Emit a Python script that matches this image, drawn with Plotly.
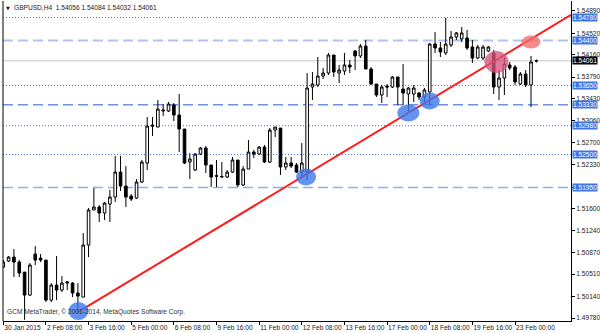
import plotly.graph_objects as go

# ---------------- data (GBPUSD H4) ----------------
bar_index = list(range(101))
opens = [1.50628, 1.50727, 1.50794, 1.50711, 1.50544, 1.50161, 1.50844, 1.50777, 1.50744, 1.50078,
         1.50328, 1.50245, 1.50361, 1.50361, 1.50195, 1.50128, 1.50994, 1.51577, 1.51627, 1.51527,
         1.51677, 1.51793, 1.52209, 1.51976, 1.51810, 1.51776, 1.52043, 1.52359, 1.52991, 1.52958,
         1.53225, 1.53225, 1.53325, 1.53158, 1.52925, 1.52376, 1.52243, 1.52509, 1.52609, 1.52326,
         1.52138, 1.52126, 1.52126, 1.52209, 1.52409, 1.51993, 1.52259, 1.52542, 1.52509, 1.52625,
         1.52376, 1.52908, 1.52941, 1.52293, 1.52359, 1.52326, 1.52209, 1.52209, 1.53624, 1.53658,
         1.53807, 1.53857, 1.54157, 1.53857, 1.53891, 1.53991, 1.54224, 1.54141, 1.54307, 1.53924,
         1.53674, 1.53491, 1.53641, 1.53624, 1.53791, 1.53591, 1.53508, 1.53508, 1.53525, 1.53458,
         1.53541, 1.54340, 1.54274, 1.54191, 1.54324, 1.54457, 1.54424, 1.54440, 1.54290, 1.54107,
         1.54107, 1.54224, 1.54191, 1.53624, 1.53774, 1.53991, 1.53957, 1.53674, 1.53841, 1.53658,
         1.54056]
highs = [1.50744, 1.50811, 1.50927, 1.50744, 1.50544, 1.50694, 1.50977, 1.50844, 1.50744, 1.50361,
         1.50811, 1.50478, 1.50395, 1.50378, 1.50361, 1.51194, 1.51610, 1.51943, 1.51660, 1.51710,
         1.51910, 1.52476, 1.52476, 1.52309, 1.51843, 1.52093, 1.52409, 1.53125, 1.53125, 1.53408,
         1.53341, 1.53375, 1.53358, 1.53508, 1.52925, 1.52525, 1.52525, 1.52625, 1.52642, 1.52326,
         1.52409, 1.52376, 1.52243, 1.52459, 1.52409, 1.52309, 1.52742, 1.52576, 1.52642, 1.52659,
         1.52941, 1.52958, 1.52941, 1.52459, 1.52459, 1.52359, 1.52692, 1.53857, 1.53874, 1.54124,
         1.53941, 1.54191, 1.54157, 1.53991, 1.54191, 1.54074, 1.54241, 1.54340, 1.54407, 1.53957,
         1.53674, 1.53658, 1.53674, 1.53807, 1.53791, 1.54007, 1.53624, 1.53658, 1.53541, 1.53608,
         1.54357, 1.54540, 1.54374, 1.54773, 1.54557, 1.54540, 1.54623, 1.54574, 1.54407, 1.54324,
         1.54324, 1.54307, 1.54241, 1.53907, 1.54124, 1.54041, 1.53991, 1.53874, 1.53907, 1.54141,
         1.54084]
lows = [1.50611, 1.50711, 1.50461, 1.50461, 1.49750, 1.50145, 1.50661, 1.50711, 1.50045, 1.50045,
        1.50078, 1.50211, 1.50245, 1.50128, 1.49878, 1.50128, 1.50794, 1.51577, 1.51377, 1.51410,
        1.51377, 1.51710, 1.51893, 1.51627, 1.51727, 1.51760, 1.52026, 1.52243, 1.52808, 1.52958,
        1.53141, 1.53208, 1.53058, 1.52542, 1.52343, 1.52093, 1.52226, 1.52492, 1.52193, 1.51960,
        1.51960, 1.52110, 1.52110, 1.52193, 1.51960, 1.51976, 1.52259, 1.52443, 1.52492, 1.52359,
        1.52359, 1.52792, 1.52160, 1.52243, 1.52276, 1.52193, 1.52143, 1.52076, 1.53408, 1.53624,
        1.53758, 1.53824, 1.53791, 1.53691, 1.53824, 1.53857, 1.53907, 1.54107, 1.53924, 1.53658,
        1.53458, 1.53358, 1.53458, 1.53608, 1.53325, 1.53325, 1.53191, 1.53375, 1.53408, 1.53375,
        1.53325, 1.54191, 1.54124, 1.54157, 1.54290, 1.54407, 1.54374, 1.54241, 1.54024, 1.54090,
        1.54074, 1.54207, 1.53508, 1.53408, 1.53491, 1.53907, 1.53658, 1.53658, 1.53624, 1.53291,
        1.54032]
closes = [1.50711, 1.50794, 1.50711, 1.50528, 1.50161, 1.50661, 1.50744, 1.50744, 1.50078, 1.50328,
          1.50245, 1.50361, 1.50378, 1.50195, 1.50145, 1.50994, 1.51577, 1.51627, 1.51527, 1.51693,
          1.51793, 1.52209, 1.51976, 1.51793, 1.51760, 1.52043, 1.52376, 1.52975, 1.52975, 1.53258,
          1.53240, 1.53341, 1.53158, 1.52925, 1.52359, 1.52426, 1.52509, 1.52609, 1.52326, 1.52126,
          1.52148, 1.52135, 1.52209, 1.52409, 1.51993, 1.52259, 1.52542, 1.52509, 1.52625, 1.52376,
          1.52908, 1.52958, 1.52293, 1.52359, 1.52309, 1.52209, 1.52359, 1.53608, 1.53674, 1.53807,
          1.53857, 1.54157, 1.53874, 1.53907, 1.53991, 1.53957, 1.54141, 1.54307, 1.53924, 1.53674,
          1.53491, 1.53624, 1.53624, 1.53791, 1.53624, 1.53525, 1.53608, 1.53608, 1.53458, 1.53575,
          1.54340, 1.54274, 1.54207, 1.54340, 1.54457, 1.54524, 1.54524, 1.54274, 1.54107, 1.54290,
          1.54290, 1.54290, 1.53624, 1.53774, 1.54007, 1.53941, 1.53708, 1.53841, 1.53658, 1.54041,
          1.54061]

xtick_idx = [0, 8, 16, 24, 32, 40, 48, 56, 64, 72, 80, 88, 96]
xtick_text = ["30 Jan 2015", "2 Feb 08:00", "3 Feb 16:00", "5 Feb 00:00", "6 Feb 08:00",
              "9 Feb 16:00", "11 Feb 00:00", "12 Feb 08:00", "13 Feb 16:00", "17 Feb 00:00",
              "18 Feb 08:00", "19 Feb 16:00", "23 Feb 00:00"]
ytick_vals = [1.54890, 1.54520, 1.54160, 1.53790, 1.53430, 1.53060, 1.52700, 1.52330,
              1.51960, 1.51600, 1.51240, 1.50870, 1.50510, 1.50140, 1.49780]
# the 1.51960 tick label is covered by the 1.51950 level label in the reference
ytick_hidden = [1.51960]

dotted_levels = [1.54780, 1.53650, 1.52980, 1.52500]
dashed_levels = [1.54400, 1.53330, 1.51950]
current_price = 1.54061

trend_x = [14, 80]
trend_y = [1.49878, 1.53408]

blue_mark_x = [14.1, 56.8, 76.0, 80.0]
blue_mark_y = [1.49895, 1.52126, 1.53191, 1.53392]
red_mark_x = [92.5, 99.0]
red_mark_y = [1.54041, 1.54374]

title_text = "GBPUSD,H4  1.54056 1.54084 1.54032 1.54061"
watermark = "GCM MetaTrader, © 2001-2014, MetaQuotes Software Corp."

# ---------------- layout geometry ----------------
W, H = 600, 333
ML, MR, MT, MB = 3, 29, 1, 12
plot_w = W - ML - MR
plot_h = H - MT - MB
x_range = [-0.05, 106.5]
y_range = [1.49730, 1.55056]
bar_px = plot_w / (x_range[1] - x_range[0])
price_px = (y_range[1] - y_range[0]) / plot_h

FONT = "Liberation Sans"
FS = 6.6

fig = go.Figure()
fig.add_trace(go.Candlestick(
    x=bar_index, open=opens, high=highs, low=lows, close=closes,
    increasing=dict(line=dict(color="black", width=1), fillcolor="white"),
    decreasing=dict(line=dict(color="black", width=1), fillcolor="black"),
    whiskerwidth=0, showlegend=False, hoverinfo="skip",
))

shapes = []
for lv in dotted_levels:
    shapes.append(dict(type="line", xref="paper", x0=0, x1=1, yref="y", y0=lv, y1=lv,
                       line=dict(color="#4a72e0", width=1, dash="1px,2px"), layer="below"))
dash_styles = {1.54400: ("#aec2f2", 2), 1.53330: ("#6f8fe6", 1.5), 1.51950: ("#93aced", 1.5)}
for lv in dashed_levels:
    c, w = dash_styles[lv]
    shapes.append(dict(type="line", xref="paper", x0=0, x1=1, yref="y", y0=lv, y1=lv,
                       line=dict(color=c, width=w, dash="10px,5px"), layer="below"))
shapes.append(dict(type="line", xref="paper", x0=0, x1=1, yref="y", y0=current_price, y1=current_price,
                   line=dict(color="#c8c8c8", width=1), layer="below"))

# trend ray
slope = (trend_y[1] - trend_y[0]) / (trend_x[1] - trend_x[0])
x_end = x_range[1]
shapes.append(dict(type="line", xref="x", yref="y", x0=trend_x[0], y0=trend_y[0],
                   x1=x_end, y1=trend_y[0] + slope * (x_end - trend_x[0]),
                   line=dict(color="#ff1a1a", width=2), layer="above"))

def ellipse(cx, cy, rx_px, ry_px, color):
    return dict(type="circle", xref="x", yref="y",
                x0=cx - rx_px / bar_px, x1=cx + rx_px / bar_px,
                y0=cy - ry_px * price_px, y1=cy + ry_px * price_px,
                fillcolor=color, line=dict(width=0), layer="above")

blue_sizes = [(10, 9), (10, 8.5), (11, 8.5), (10, 8.5)]
for (cx, cy), (rx, ry) in zip(zip(blue_mark_x, blue_mark_y), blue_sizes):
    shapes.append(ellipse(cx, cy, rx, ry, "rgba(60,120,235,0.8)"))
shapes.append(ellipse(red_mark_x[0], red_mark_y[0], 12, 11, "rgba(215,85,125,0.78)"))
shapes.append(ellipse(red_mark_x[1], red_mark_y[1], 9.5, 6.5, "rgba(245,110,110,0.8)"))

# left border
shapes.append(dict(type="line", xref="paper", yref="paper", x0=0, x1=0, y0=0, y1=1,
                   line=dict(color="black", width=1)))

annotations = []
for lv in dotted_levels + dashed_levels:
    annotations.append(dict(xref="paper", x=1, xanchor="left", xshift=1, yref="y", y=lv,
                            yanchor="middle", text=f"{lv:.5f}", showarrow=False,
                            font=dict(family=FONT, size=FS, color="white"),
                            bgcolor="#3f74e6", borderpad=0))
annotations.append(dict(xref="paper", x=1, xanchor="left", xshift=1, yref="y", y=current_price,
                        yanchor="middle", text=f"{current_price:.5f}", showarrow=False,
                        font=dict(family=FONT, size=FS, color="white"),
                        bgcolor="black", borderpad=0))
annotations.append(dict(xref="paper", yref="paper", x=0, y=1, xanchor="left", yanchor="top",
                        xshift=1, yshift=-2, text="▼", showarrow=False,
                        font=dict(family="DejaVu Sans", size=5, color="#202020")))
annotations.append(dict(xref="paper", yref="paper", x=0, y=1, xanchor="left", yanchor="top",
                        xshift=9, yshift=-1, text=title_text, showarrow=False,
                        font=dict(family=FONT, size=FS, color="#202020")))
annotations.append(dict(xref="paper", yref="paper", x=0, y=0, xanchor="left", yanchor="bottom",
                        xshift=2, yshift=3, text=watermark, showarrow=False,
                        font=dict(family=FONT, size=FS, color="#303030")))

fig.update_layout(
    width=W, height=H,
    margin=dict(l=ML, r=MR, t=MT, b=MB, pad=0, autoexpand=False),
    paper_bgcolor="white", plot_bgcolor="white",
    shapes=shapes, annotations=annotations,
    font=dict(family=FONT, size=FS, color="#202020"),
    showlegend=False,
    xaxis=dict(range=x_range, tickvals=xtick_idx, ticktext=xtick_text, tickangle=0,
               automargin=False,
               ticks="outside", ticklen=3, tickcolor="black", tickwidth=1,
               ticklabelposition="outside right",
               showline=True, linecolor="black", linewidth=1, mirror=False,
               showgrid=False, zeroline=False, rangeslider=dict(visible=False),
               tickfont=dict(family=FONT, size=FS, color="#202020")),
    yaxis=dict(range=y_range, side="right", tickvals=ytick_vals, automargin=False,
               ticktext=["" if v in ytick_hidden else f"{v:.5f}" for v in ytick_vals],
               ticks="outside", ticklen=3, tickcolor="black", tickwidth=1,
               showline=True, linecolor="black", linewidth=1,
               showgrid=False, zeroline=False,
               tickfont=dict(family=FONT, size=FS, color="#202020")),
)

fig.write_html("out.html")
